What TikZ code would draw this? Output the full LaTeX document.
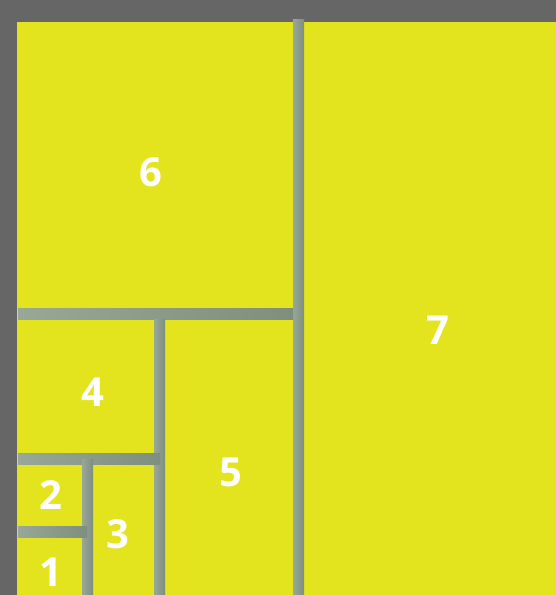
\documentclass[tikz,border=0pt]{standalone}
\usepackage{fontspec}
\setsansfont{Open Sans}
\usetikzlibrary{positioning}
\definecolor{clrframe}{HTML}{666666}
\definecolor{clrcell}{HTML}{E3E41E}
\definecolor{clrbarlight}{HTML}{98A797}
\definecolor{clrbardark}{HTML}{7E8E7F}
\definecolor{clrtext}{HTML}{FFFFFF}
\begin{document}
\begin{tikzpicture}[
    x=1pt, y=-1pt,
    every node/.style={font=\sffamily},
    cellnum/.style={font=\sffamily\bfseries\fontsize{40}{40}\selectfont, text=clrtext, inner sep=0pt},
    bar/.style={left color=clrbarlight, right color=clrbardark, draw=none},
]
\useasboundingbox (0,0) rectangle (556,595);
\fill[clrframe] (0,0) rectangle (556,595);
\fill[clrcell] (17,22) rectangle (556,595);
% separating bars
\shade[bar] (293,19) rectangle (304,595);
\shade[bar] (18,308) rectangle (293,319);
\shade[bar] (154,319) rectangle (165,595);
\shade[bar] (18,453) rectangle (160,464);
\shade[bar] (82,459) rectangle (93,595);
\shade[bar] (18,526) rectangle (87,537);
% cell numbers
\node[cellnum] (n_6) at (151,172) {6};
\node[cellnum] (n_7) at (438,330) {7};
\node[cellnum] (n_4) at (93,392) {4};
\node[cellnum] (n_5) at (231,472) {5};
\node[cellnum] (n_2) at (51,495) {2};
\node[cellnum] (n_3) at (118,534) {3};
\node[cellnum] (n_1) at (51,572) {1};
\end{tikzpicture}
\end{document}
